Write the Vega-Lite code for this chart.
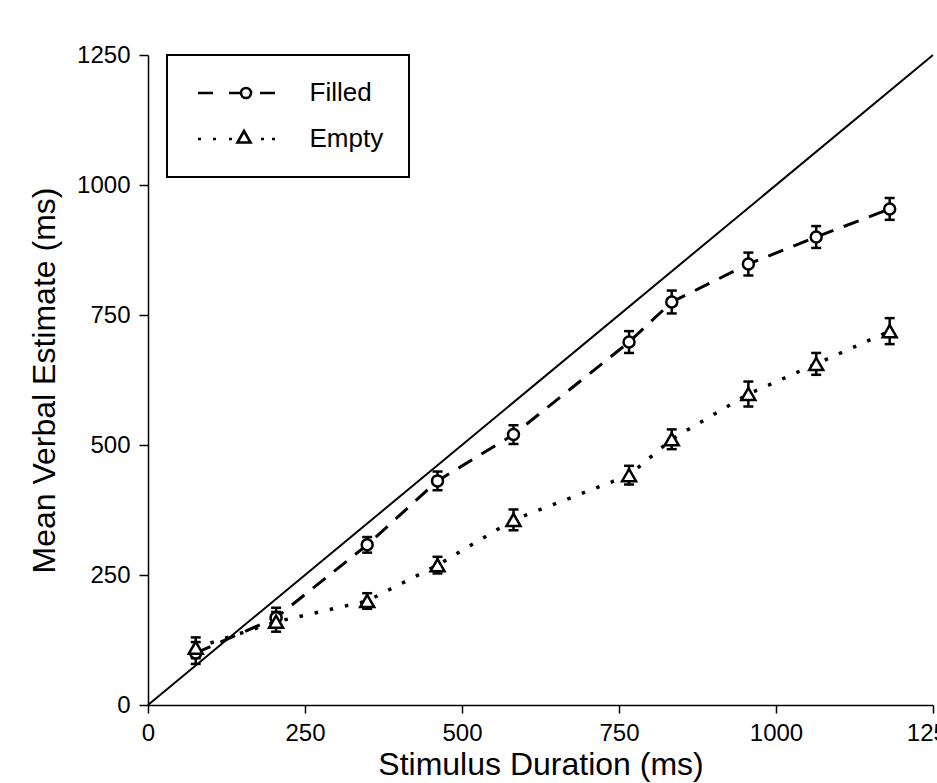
{
  "$schema": "https://vega.github.io/schema/vega-lite/v6.json",
  "width": 785,
  "height": 650,
  "autosize": {"type": "none"},
  "padding": {"left": 148, "top": 55, "right": 4, "bottom": 78},
  "background": "white",
  "config": {
    "view": {"stroke": null},
    "font": "Liberation Sans",
    "axis": {
      "grid": false,
      "format": "d",
      "domainColor": "black",
      "domainWidth": 1.5,
      "tickColor": "black",
      "tickWidth": 1.5,
      "labelColor": "black",
      "labelFontSize": 24,
      "labelFont": "Liberation Sans",
      "labelFlush": false,
      "labelOverlap": false,
      "titleColor": "black",
      "titleFont": "Liberation Sans",
      "titleFontSize": 32,
      "titleFontWeight": "normal"
    },
    "legend": {
      "orient": "none",
      "legendX": 19,
      "legendY": 0,
      "strokeColor": "black",
      "strokeWidth": 2,
      "fillColor": "white",
      "padding": 25,
      "symbolSize": 400,
      "symbolOffset": 31.5,
      "symbolStrokeWidth": 2.6,
      "symbolStrokeColor": "black",
      "symbolFillColor": "white",
      "labelFontSize": 26,
      "labelFont": "Liberation Sans",
      "labelColor": "black",
      "labelOffset": 60,
      "rowPadding": 19
    }
  },
  "datasets": {
    "identity": [
      {"duration": 0, "estimate": 0},
      {"duration": 1250, "estimate": 1250}
    ],
    "means": [
      {"condition": "Filled", "duration": 76, "estimate": 100, "lower": 79, "upper": 121},
      {"condition": "Filled", "duration": 204, "estimate": 168, "lower": 149, "upper": 187},
      {"condition": "Filled", "duration": 349, "estimate": 308, "lower": 293, "upper": 323},
      {"condition": "Filled", "duration": 461, "estimate": 431, "lower": 413, "upper": 449},
      {"condition": "Filled", "duration": 582, "estimate": 520, "lower": 502, "upper": 538},
      {"condition": "Filled", "duration": 766, "estimate": 698, "lower": 677, "upper": 719},
      {"condition": "Filled", "duration": 834, "estimate": 775, "lower": 753, "upper": 797},
      {"condition": "Filled", "duration": 956, "estimate": 848, "lower": 826, "upper": 870},
      {"condition": "Filled", "duration": 1064, "estimate": 900, "lower": 879, "upper": 921},
      {"condition": "Filled", "duration": 1181, "estimate": 954, "lower": 933, "upper": 975},
      {"condition": "Empty", "duration": 76, "estimate": 110, "lower": 90, "upper": 130},
      {"condition": "Empty", "duration": 204, "estimate": 160, "lower": 141, "upper": 179},
      {"condition": "Empty", "duration": 349, "estimate": 200, "lower": 185, "upper": 215},
      {"condition": "Empty", "duration": 461, "estimate": 269, "lower": 253, "upper": 285},
      {"condition": "Empty", "duration": 582, "estimate": 356, "lower": 336, "upper": 376},
      {"condition": "Empty", "duration": 766, "estimate": 442, "lower": 424, "upper": 460},
      {"condition": "Empty", "duration": 834, "estimate": 511, "lower": 492, "upper": 530},
      {"condition": "Empty", "duration": 956, "estimate": 598, "lower": 574, "upper": 622},
      {"condition": "Empty", "duration": 1064, "estimate": 656, "lower": 635, "upper": 677},
      {"condition": "Empty", "duration": 1181, "estimate": 719, "lower": 694, "upper": 744}
    ]
  },
  "layer": [
    {
      "data": {"name": "identity"},
      "mark": {"type": "line", "color": "black", "strokeWidth": 2},
      "encoding": {
        "x": {
          "field": "duration",
          "type": "quantitative",
          "scale": {"domain": [0, 1250], "nice": false, "zero": false},
          "axis": {
            "title": "Stimulus Duration (ms)",
            "values": [0, 250, 500, 750, 1000, 1250],
            "tickSize": 8,
            "labelPadding": 8,
            "titlePadding": 4
          }
        },
        "y": {
          "field": "estimate",
          "type": "quantitative",
          "scale": {"domain": [0, 1250], "nice": false, "zero": false},
          "axis": {
            "title": "Mean Verbal Estimate (ms)",
            "values": [0, 250, 500, 750, 1000, 1250],
            "tickSize": 9,
            "labelPadding": 9,
            "titlePadding": 15
          }
        }
      }
    },
    {
      "data": {"name": "means"},
      "transform": [{"filter": "datum.condition === 'Filled'"}],
      "mark": {"type": "line", "color": "black", "strokeWidth": 3, "strokeCap": "butt", "strokeDash": [16, 11]},
      "encoding": {
        "x": {"field": "duration", "type": "quantitative"},
        "y": {"field": "estimate", "type": "quantitative"}
      }
    },
    {
      "data": {"name": "means"},
      "transform": [{"filter": "datum.condition === 'Empty'"}],
      "mark": {"type": "line", "color": "black", "strokeWidth": 3.5, "strokeCap": "butt", "strokeDash": [3.5, 12]},
      "encoding": {
        "x": {"field": "duration", "type": "quantitative"},
        "y": {"field": "estimate", "type": "quantitative"}
      }
    },
    {
      "data": {"name": "means"},
      "mark": {"type": "rule", "strokeWidth": 2.5},
      "encoding": {
        "x": {"field": "duration", "type": "quantitative"},
        "y": {"field": "lower", "type": "quantitative"},
        "y2": {"field": "upper"},
        "color": {
          "field": "condition",
          "type": "nominal",
          "scale": {"domain": ["Filled", "Empty"], "range": ["black", "black"]},
          "legend": {
            "title": null,
            "encode": {
              "symbols": {
                "update": {
                  "shape": {"signal": "datum.value === 'Filled' ? 'M-3.85,0H-2.35M-0.75,0H0.45M0.45,0A0.5,0.5 0 1,0 1.45,0A0.5,0.5 0 1,0 0.45,0ZM2.35,0H3.85' : 'M-3.85,0H-3.55M-2.35,0H-2.05M-0.75,0H-0.45M2.45,0H2.75M3.55,0H3.85M0.75,-0.8L0.1,0.35L1.4,0.35Z'"},
                  "stroke": {"value": "black"},
                  "fill": {"value": "white"},
                  "strokeWidth": {"value": 2.6},
                  "opacity": {"value": 1}
                }
              }
            }
          }
        }
      }
    },
    {
      "data": {"name": "means"},
      "mark": {"type": "tick", "orient": "horizontal", "color": "black", "size": 10, "thickness": 2.5, "opacity": 1},
      "encoding": {
        "x": {"field": "duration", "type": "quantitative"},
        "y": {"field": "lower", "type": "quantitative"}
      }
    },
    {
      "data": {"name": "means"},
      "mark": {"type": "tick", "orient": "horizontal", "color": "black", "size": 10, "thickness": 2.5, "opacity": 1},
      "encoding": {
        "x": {"field": "duration", "type": "quantitative"},
        "y": {"field": "upper", "type": "quantitative"}
      }
    },
    {
      "data": {"name": "means"},
      "transform": [{"filter": "datum.condition === 'Filled'"}],
      "mark": {"type": "point", "shape": "circle", "size": 121, "filled": true, "fill": "white", "stroke": "black", "strokeWidth": 2.5, "opacity": 1},
      "encoding": {
        "x": {"field": "duration", "type": "quantitative"},
        "y": {"field": "estimate", "type": "quantitative"}
      }
    },
    {
      "data": {"name": "means"},
      "transform": [{"filter": "datum.condition === 'Empty'"}],
      "mark": {"type": "point", "shape": "triangle-up", "size": 196, "filled": true, "fill": "white", "stroke": "black", "strokeWidth": 2.5, "opacity": 1},
      "encoding": {
        "x": {"field": "duration", "type": "quantitative"},
        "y": {"field": "estimate", "type": "quantitative"}
      }
    }
  ]
}
